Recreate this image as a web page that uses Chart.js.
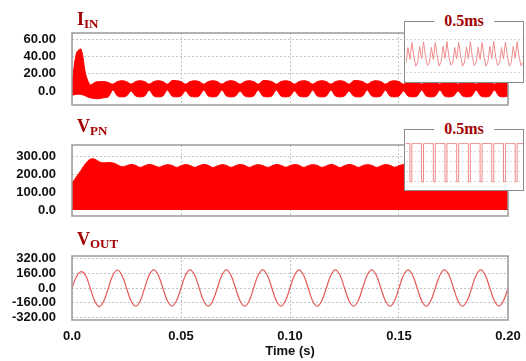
<!DOCTYPE html>
<html>
<head>
<meta charset="utf-8">
<script src="https://cdn.jsdelivr.net/npm/chart.js@4.4.0/dist/chart.umd.min.js"></script>
<style>
  body { margin: 0; background: #fff; }
  #wrap { position: relative; width: 526px; height: 361px; overflow: hidden; background: #fff; }
  .panel { position: absolute; left: 0; }
  .name { position: absolute; left: 77px; font: bold 18px "Liberation Serif", serif; color: #a30000; line-height: 18px; white-space: nowrap; }
  .name span { font-size: 13px; position: relative; top: 3px; }
  .zoom { position: absolute; left: 404px; width: 120px; height: 62px; box-sizing: border-box; border: 1.5px solid #8a8a8a; background: #fff; }
  .zoom canvas { position: absolute; left: 1px; top: 11px; }
  .zoom .cap { position: absolute; left: 50%; top: -10px; transform: translateX(-50%); padding: 0 10px; background: #fff; font: bold 16px "Liberation Serif", serif; color: #a30000; line-height: 18px; white-space: nowrap; }
</style>
</head>
<body>
<div id="wrap">
  <canvas id="iinChart" class="panel" width="526" height="92" style="top:23px"></canvas>
  <canvas id="vpnChart" class="panel" width="526" height="91" style="top:135px"></canvas>
  <canvas id="voutChart" class="panel" width="526" height="115" style="top:246px"></canvas>

  <div class="name" style="top:10px">I<span>IN</span></div>
  <div class="name" style="top:117px">V<span>PN</span></div>
  <div class="name" style="top:230px">V<span>OUT</span></div>

  <div class="zoom" style="top:21px">
    <div class="cap">0.5ms</div>
    <canvas id="iinZoom" width="117" height="46"></canvas>
  </div>
  <div class="zoom" style="top:129px">
    <div class="cap">0.5ms</div>
    <canvas id="vpnZoom" width="117" height="46"></canvas>
  </div>
</div>

<script>
// samples every 1/480 s, 0 .. 0.2 s
const timeStep = 1 / 480;
const timeTicks = [0, 0.05, 0.1, 0.15, 0.2];

const iinTicks = [0, 20, 40, 60];
const vpnTicks = [0, 100, 200, 300];
const voutTicks = [-320, -160, 0, 160, 320];

// input current, upper / lower edge of the switching band (A)
const iinHigh = [8, 45, 49, 20, 7, 10, 11, 11, 10,
  8, 11, 12, 11,  8, 11, 12, 11,  8, 11, 12, 11,  8, 12, 12, 11,
  8, 11, 12, 11,  8, 11, 12, 11,  8, 11, 12, 11,  8, 11, 12, 11,
  8, 12, 12, 11,  8, 11, 12, 11,  8, 11, 12, 11,  8, 11, 12, 11,
  8, 11, 12, 11,  8, 12, 12, 11,  8, 11, 12, 11,  8, 11, 12, 11,
  8, 11, 12, 11,  8, 11, 12, 11,  8, 12, 12, 11,  8, 11, 12, 11,
  8, 11, 12, 11,  8, 11, 12, 11];
const iinLow = [-5, -4, -4, -6, -8, -9, -9, -8, -7,
  1, -6, -7, -6,  0, -6, -7, -6,  1, -6, -7, -6,  1, -6, -7, -6,
  0, -6, -7, -6,  1, -6, -7, -6,  1, -6, -7, -6,  0, -6, -7, -6,
  1, -6, -7, -6,  1, -6, -7, -6,  0, -6, -7, -6,  1, -6, -7, -6,
  1, -6, -7, -6,  0, -6, -7, -6,  1, -6, -7, -6,  1, -6, -7, -6,
  0, -6, -7, -6,  1, -6, -7, -6,  1, -6, -7, -6,  0, -6, -7, -6,
  1, -6, -7, -6,  1, -6, -7, -6];

// dc link voltage envelope (V)
const vpn = [151, 188, 225, 262, 286, 287, 272, 266, 268, 266, 256, 244,
  250, 257, 252, 241,  250, 257, 252, 242,  249, 256, 252, 241,  250, 257, 251, 241,
  250, 257, 252, 240,  249, 256, 252, 241,  250, 257, 252, 241,  250, 256, 251, 241,
  249, 257, 252, 242,  250, 257, 252, 241,  250, 256, 252, 241,  249, 257, 251, 240,
  250, 257, 252, 241,  250, 256, 252, 241,  249, 257, 252, 242,  250, 257, 251, 241,
  250, 256, 252, 241,  249, 257, 252, 241,  250, 257, 252, 240,  250, 256, 251, 241,
  249, 257, 252, 241,
  250];

// output voltage (V)
const vout = [0, 127, 180, 138, 0, -142, -205, -144,
  0, 141, 198, 141, 0, -141, -201, -142,
  0, 142, 199, 141, 0, -141, -200, -141,
  0, 141, 200, 142, 0, -142, -201, -141,
  0, 141, 199, 141, 0, -141, -200, -142,
  0, 142, 200, 141, 0, -141, -200, -141,
  0, 141, 199, 141, 0, -142, -201, -141,
  0, 141, 200, 142, 0, -141, -200, -141,
  0, 142, 199, 141, 0, -141, -200, -142,
  0, 141, 200, 141, 0, -141, -201, -141,
  0, 141, 199, 142, 0, -142, -200, -141,
  0, 142, 200, 141, 0, -141, -200, -141,
  0];

// 0.5 ms close-ups
const iinZoomValues = [3, 7.5, 4, 9, 5, 2,
  3.2, 7.8, 4.2, 9.2, 4.8, 2.2,  3, 7.6, 4, 9, 5, 2,
  3.3, 7.9, 4.3, 9.3, 4.7, 2.3,  3, 7.5, 4.1, 9.1, 5, 2,
  3.2, 7.7, 4.2, 9.2, 4.8, 2.1,  3.1, 7.6, 4, 9, 4.9, 2,
  3.3, 7.9, 4.2, 9.3, 4.7, 2.2,  3, 7.5, 4.1, 9.1, 5, 2,
  3.2, 7.8, 4.3, 9.2, 4.8, 2.1,
  3];
const vpnZoomValues = [300, 300, 0, 300, 300, 300,  300, 300, 0, 300, 300, 300,
  300, 300, 0, 300, 300, 300,  300, 300, 0, 300, 300, 300,  300, 300, 0, 300, 300, 300,
  300, 300, 0, 300, 300, 300,  300, 300, 0, 300, 300, 300,  300, 300, 0, 300, 300, 300,
  300, 300, 0, 300, 300, 300,  300, 300, 0, 300, 300, 300,
  300];

const tickFont = { family: 'Liberation Sans', size: 13, weight: 'bold' };
const fmt = v => v === 0 ? '0.0' : v.toFixed(2);

function points(values){
  return values.map((v, i) => ({ x: i * timeStep, y: v }));
}

// labels may not push the plot area around
function noScalePadding(s){
  s.paddingTop = 0; s.paddingBottom = 0; s.paddingLeft = 0; s.paddingRight = 0;
}

// box round the plot area ......................................................
const frame = {
  id: 'frame',
  afterDatasetsDraw(chart){
    const a = chart.chartArea, ctx = chart.ctx;
    ctx.save();
    ctx.strokeStyle = '#9a9a9a';
    ctx.lineWidth = 1.5;
    ctx.strokeRect(a.left, a.top, a.right - a.left, a.bottom - a.top);
    ctx.restore();
  }
};

// one stacked panel ............................................................
function panel(id, datasets, yMin, yMax, yTicks, last){
  return new Chart(document.getElementById(id), {
    type: 'line',
    data: { datasets: datasets },
    options: {
      responsive: false,
      maintainAspectRatio: false,
      animation: false,
      layout: { padding: { top: 10, right: 18, bottom: last ? 0 : 10, left: 0 } },
      plugins: { legend: { display: false }, tooltip: { enabled: false } },
      elements: { point: { radius: 0 } },
      scales: {
        x: {
          type: 'linear', min: 0, max: 0.2,
          afterBuildTicks: s => { s.ticks = timeTicks.map(v => ({ value: v })); },
          afterFit: s => { s.height = last ? 41 : 0; noScalePadding(s); },
          grid: { color: '#c4c4c4', drawTicks: false },
          border: { display: false, dash: [2, 2] },
          ticks: { display: last, padding: 9, color: '#111', font: tickFont, maxRotation: 0, autoSkip: false, callback: fmt },
          title: { display: last, text: 'Time (s)', color: '#111', font: tickFont, padding: { top: 0, bottom: 2 } }
        },
        y: {
          min: yMin, max: yMax,
          afterBuildTicks: s => { s.ticks = yTicks.map(v => ({ value: v })); },
          afterFit: s => { s.width = 72; noScalePadding(s); },
          grid: { color: '#c4c4c4', drawTicks: false },
          border: { display: false, dash: [2, 2] },
          ticks: { padding: 16, color: '#111', font: tickFont, autoSkip: false, callback: fmt }
        }
      }
    },
    plugins: [frame]
  });
}

panel('iinChart', [
  { data: points(iinLow), borderColor: '#ff0000', borderWidth: 1, tension: 0.3, fill: false },
  { data: points(iinHigh), borderColor: '#ff0000', borderWidth: 1, tension: 0.3, fill: '-1', backgroundColor: '#ff0000' }
], -16.5, 68, iinTicks, false);

panel('vpnChart', [
  { data: points(vpn), borderColor: '#ff0000', borderWidth: 1, tension: 0.4, fill: 'origin', backgroundColor: '#ff0000' }
], -34, 367, vpnTicks, false);

panel('voutChart', [
  { data: points(vout), borderColor: '#e85a5a', borderWidth: 1.2, tension: 0.4, fill: false }
], -352, 352, voutTicks, true);

// close-up boxes ...............................................................
function zoomChart(id, values, yMin, yMax, gridTicks, stepped){
  return new Chart(document.getElementById(id), {
    type: 'line',
    data: {
      labels: values.map((v, i) => i),
      datasets: [{ data: values, borderColor: '#f08c8c', borderWidth: 1, pointRadius: 0, stepped: stepped }]
    },
    options: {
      responsive: false,
      maintainAspectRatio: false,
      animation: false,
      layout: { padding: 0 },
      plugins: { legend: { display: false }, tooltip: { enabled: false } },
      scales: {
        x: { display: false },
        y: {
          min: yMin, max: yMax,
          afterBuildTicks: s => { s.ticks = gridTicks.map(v => ({ value: v })); },
          afterFit: s => { s.width = 0; noScalePadding(s); },
          ticks: { display: false },
          grid: { color: '#dadada', drawTicks: false },
          border: { display: false, dash: [2, 2] }
        }
      }
    }
  });
}

zoomChart('iinZoom', iinZoomValues, -1.8, 11.8, [0, 5, 10], false);
zoomChart('vpnZoom', vpnZoomValues, -40, 320, [0, 80, 160, 240], true);
</script>
</body>
</html>
